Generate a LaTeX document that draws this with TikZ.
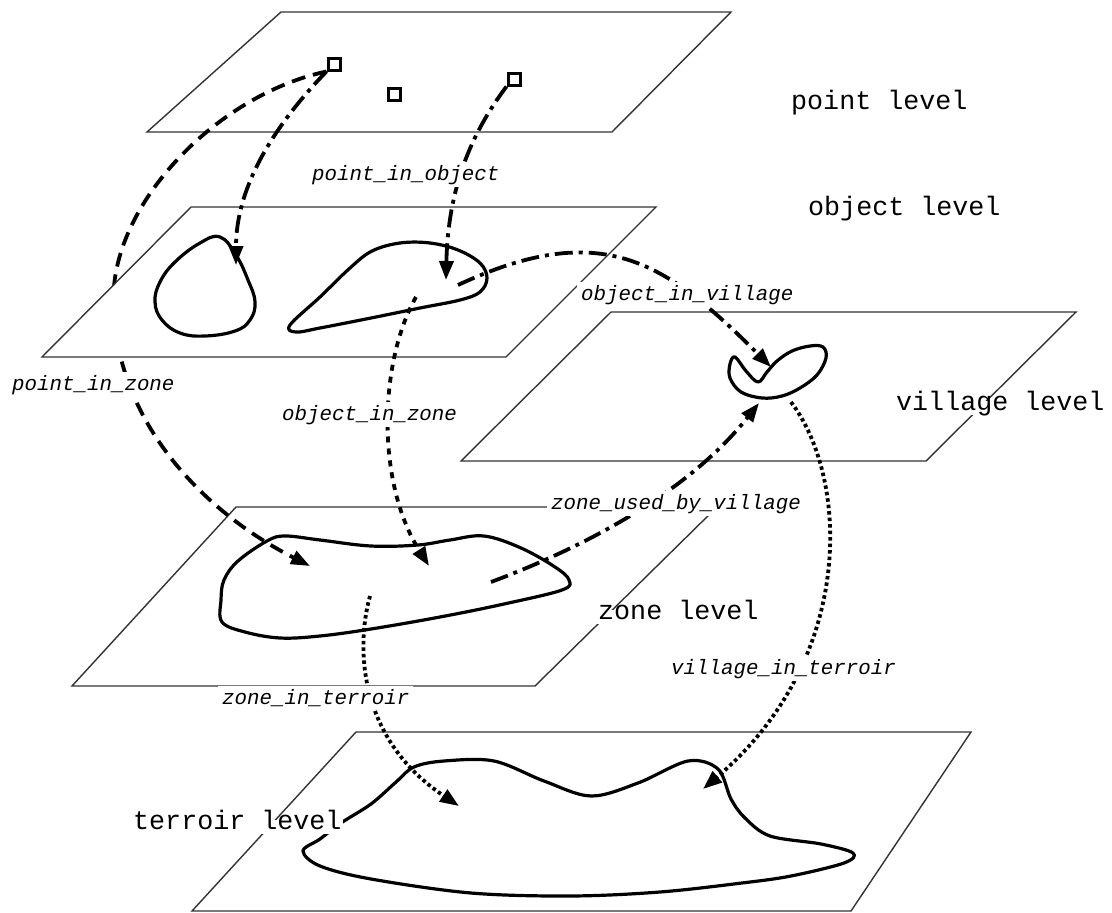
\documentclass[tikz,border=0pt]{standalone}
\usepackage{fontspec}
\setmonofont{Liberation Mono}
\usepackage{tikz}
\usetikzlibrary{arrows.meta}
\tikzset{
  plane/.style={draw=black!80, line width=1.4pt, fill=white},
  outline/.style={line width=3.2pt, line join=round},
  pointbox/.style={draw, line width=3pt, minimum size=12pt, inner sep=0pt},
  link/.style={line width=3.8pt, -{Triangle[length=19pt,width=14pt]}},
  dashlink/.style={link, dash pattern=on 14pt off 8pt},
  dotdash/.style={link, dash pattern=on 18pt off 6pt on 4pt off 6pt},
  bigdots/.style={link, dash pattern=on 6pt off 6pt},
  finedots/.style={link, dash pattern=on 3.5pt off 3pt},
  level/.style={font=\ttfamily\fontsize{26.7}{30}\selectfont, fill=white, inner sep=2pt, anchor=base west, text height=0.7em, text depth=0.25em},
  relation/.style={font=\ttfamily\itshape\fontsize{20.8}{24}\selectfont, fill=white, inner xsep=4pt, inner ysep=3pt, anchor=base west}
}
\begin{document}
\begin{tikzpicture}[x=1pt, y=-1pt]
  \useasboundingbox (0,0) rectangle (1112,913);
  % levels
  \draw[plane] (281,12) -- (731,12) -- (612,132) -- (147,132) -- cycle;
  \draw[plane] (611,312) -- (1076,312) -- (926,461) -- (461,461) -- cycle;
  \draw[plane] (236,507) -- (717,507) -- (535,686) -- (72,686) -- cycle;
  \draw[plane] (356,732) -- (971,732) -- (851,911) -- (192,911) -- cycle;
  \node[pointbox] (p1) at (334,64) {};
  \node[pointbox] (p2) at (394,94) {};
  \node[pointbox] (p3) at (514,79) {};
  \coordinate (zoneA) at (310,566);
  \draw[dashlink] (p1.south west) .. controls (215,95) and (105,210) .. (114,310)
    .. controls (118,420) and (200,510) .. (zoneA);
  \draw[plane] (191,207) -- (656,207) -- (506,357) -- (42,357) -- cycle;
  % shapes
  \draw[outline] plot[smooth cycle, tension=0.7] coordinates {(220,237) (236,255) (248,280) (255,302) (250,320) (235,331) (205,336) (180,333) (162,320) (155,302) (160,282) (175,262) (200,243)};
  \draw[outline] plot[smooth cycle, tension=0.6] coordinates {(290,325) (320,297) (350,268) (372,251) (400,243) (430,243) (458,250) (480,263) (487,278) (480,292) (460,300) (420,308) (371,318) (320,328) (296,332)};
  \draw[outline] plot[smooth cycle, tension=0.6] coordinates {(267,541) (285,536) (320,540) (371,546) (418,545) (450,540) (484,536) (521,548) (555,567) (569,580) (562,590) (504,604) (440,617) (371,629) (320,636) (280,638) (245,632) (222,622) (221,600) (224,580) (238,561)};
  \draw[outline] plot[smooth cycle, tension=0.6] coordinates {(762,398) (741,392) (730,378) (730,364) (735,357) (746,371) (758,382) (767,372) (777,361) (792,351) (810,346) (823,347) (826,358) (817,375) (800,388) (782,396)};
  \draw[outline] plot[smooth cycle, tension=0.55] coordinates {(341,823) (371,804) (395,783) (414,767) (444,761) (494,761) (544,781) (591,796) (638,783) (688,761) (718,769) (731,799) (745,818) (770,836) (821,844) (853,853) (844,863) (791,876) (742,883) (660,892) (571,896) (471,893) (371,879) (320,866) (303,851) (320,839)};
  % relations
  \coordinate (objA) at (236,265);
  \coordinate (objB) at (446,280);
  \coordinate (objBout) at (458,285);
  \coordinate (objBzone) at (416,297);
  \coordinate (vil) at (771,367);
  \coordinate (vilin) at (759,403);
  \coordinate (vilout) at (791,402);
  \coordinate (zoneB) at (429,566);
  \coordinate (zoneout) at (491,582);
  \coordinate (zoneterr) at (370,596);
  \coordinate (terA) at (459,806);
  \coordinate (terB) at (703,789);
  \draw[dotdash] (p1.south west) .. controls (270,130) and (236,190) .. (objA);
  \draw[dotdash] (p3.south west) .. controls (470,135) and (448,190) .. (objB);
  \draw[dotdash] (objBout) .. controls (602,218) and (665,261) .. (vil);
  \draw[bigdots] (objBzone) .. controls (380,360) and (375,480) .. (zoneB);
  \draw[dotdash] (zoneout) .. controls (590,545) and (690,490) .. (vilin);
  \draw[finedots] (vilout) .. controls (850,480) and (855,660) .. (terB);
  \draw[finedots] (zoneterr) .. controls (355,650) and (360,740) .. (terA);
  % labels
  \node[level] (lpoint) at (789,109) {point level};
  \node[level] (lobject) at (806,215) {object level};
  \node[level] (lvillage) at (894,410) {village level};
  \node[level] (lzone) at (596,619) {zone level};
  \node[level] (lterroir) at (131,829) {terroir level};
  \node[relation] (rpo) at (308,180) {point\_in\_object};
  \node[relation] (rpz) at (8,390) {point\_in\_zone};
  \node[relation] (roz) at (278,420) {object\_in\_zone};
  \node[relation] (rov) at (577,300) {object\_in\_village};
  \node[relation] (rzv) at (547,509) {zone\_used\_by\_village};
  \node[relation] (rzt) at (218,704) {zone\_in\_terroir};
  \node[relation] (rvt) at (667,674) {village\_in\_terroir};
\end{tikzpicture}
\end{document}
